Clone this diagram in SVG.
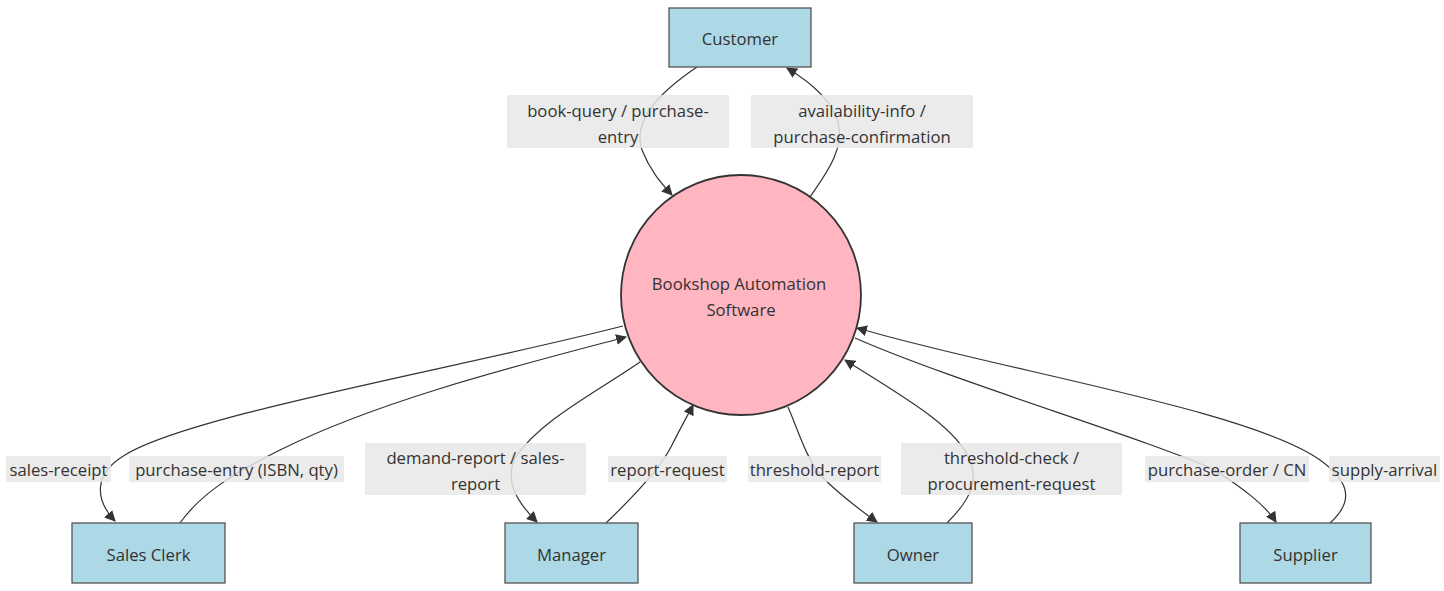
<svg xmlns="http://www.w3.org/2000/svg" width="1444" height="591" viewBox="0 0 1444 591">
<style>
text{font-family:"Open Sans","Liberation Sans",Arial,sans-serif;font-size:16.7px;fill:#333;text-anchor:middle;dominant-baseline:central}
.box{fill:#add8e6;stroke:#555;stroke-width:1.3}
.circ{fill:#ffb6c1;stroke:#333;stroke-width:1.8}
.edge{fill:none;stroke:#333;stroke-width:1.2}
.lbl{fill:#e8e8e8;fill-opacity:0.85}
</style>
<defs>
<marker id="arr" viewBox="0 0 10 10" refX="9" refY="5" markerWidth="11" markerHeight="11" markerUnits="userSpaceOnUse" orient="auto">
<path d="M0,0 L10,5 L0,10 z" fill="#333"/>
</marker>
</defs>
<g id="edges">
<path class="edge" marker-end="url(#arr)" d="M697,67 C660,92 632,120 642,150 C650,170 660,182 672,195"/>
<path class="edge" marker-end="url(#arr)" d="M810,197 C825,175 845,150 838,122 C832,100 810,82 787,68"/>
<path class="edge" marker-end="url(#arr)" d="M623,326 C450,370 190,415 125,455 C93,474 95,500 115,521"/>
<path class="edge" marker-end="url(#arr)" d="M180,523 C200,495 230,475 280,450 C380,400 520,365 626,337"/>
<path class="edge" marker-end="url(#arr)" d="M640,362 C600,390 540,420 515,458 C505,480 515,500 537,522"/>
<path class="edge" marker-end="url(#arr)" d="M606,523 C630,500 660,470 672,445 C682,425 688,415 693,405"/>
<path class="edge" marker-end="url(#arr)" d="M788,407 C798,430 805,455 820,475 C840,495 860,510 877,522"/>
<path class="edge" marker-end="url(#arr)" d="M947,523 C965,505 980,485 970,460 C955,425 900,395 845,360"/>
<path class="edge" marker-end="url(#arr)" d="M855,338 C950,380 1150,440 1215,470 C1245,490 1265,505 1276,522"/>
<path class="edge" marker-end="url(#arr)" d="M1330,523 C1350,505 1355,485 1320,460 C1250,410 1000,370 857,328"/>
</g>
<g id="edge-labels">
<rect class="lbl" x="507" y="95" width="222" height="53"/>
<text x="618" y="110">book-query / purchase-</text>
<text x="618" y="136">entry</text>
<rect class="lbl" x="751" y="95" width="222" height="53"/>
<text x="862" y="110">availability-info /</text>
<text x="862" y="136">purchase-confirmation</text>
<rect class="lbl" x="6" y="456" width="105" height="26"/>
<text x="58.5" y="469">sales-receipt</text>
<rect class="lbl" x="129" y="456" width="215" height="26"/>
<text x="236.5" y="469">purchase-entry (ISBN, qty)</text>
<rect class="lbl" x="365" y="443" width="221" height="52"/>
<text x="475.5" y="457">demand-report / sales-</text>
<text x="475.5" y="483">report</text>
<rect class="lbl" x="608" y="456" width="119" height="26"/>
<text x="667.5" y="469">report-request</text>
<rect class="lbl" x="748" y="456" width="133" height="26"/>
<text x="814.5" y="469">threshold-report</text>
<rect class="lbl" x="901" y="443" width="221" height="52"/>
<text x="1011.5" y="457">threshold-check /</text>
<text x="1011.5" y="483">procurement-request</text>
<rect class="lbl" x="1145" y="456" width="164" height="26"/>
<text x="1227" y="469">purchase-order / CN</text>
<rect class="lbl" x="1329" y="456" width="111" height="26"/>
<text x="1384.5" y="469">supply-arrival</text>
</g>
<g id="node-bas">
<circle class="circ" cx="741" cy="295" r="120"/>
<text x="739" y="283">Bookshop Automation</text>
<text x="741" y="309">Software</text>
</g>
<g id="node-customer">
<rect class="box" x="669" y="8" width="142" height="59"/>
<text x="740" y="38">Customer</text>
</g>
<g id="node-salesclerk">
<rect class="box" x="72" y="523" width="153" height="60"/>
<text x="148.5" y="554">Sales Clerk</text>
</g>
<g id="node-manager">
<rect class="box" x="505" y="523" width="133" height="60"/>
<text x="571.5" y="554">Manager</text>
</g>
<g id="node-owner">
<rect class="box" x="854" y="523" width="118" height="60"/>
<text x="913" y="554">Owner</text>
</g>
<g id="node-supplier">
<rect class="box" x="1240" y="523" width="131" height="60"/>
<text x="1305.5" y="554">Supplier</text>
</g>
</svg>
